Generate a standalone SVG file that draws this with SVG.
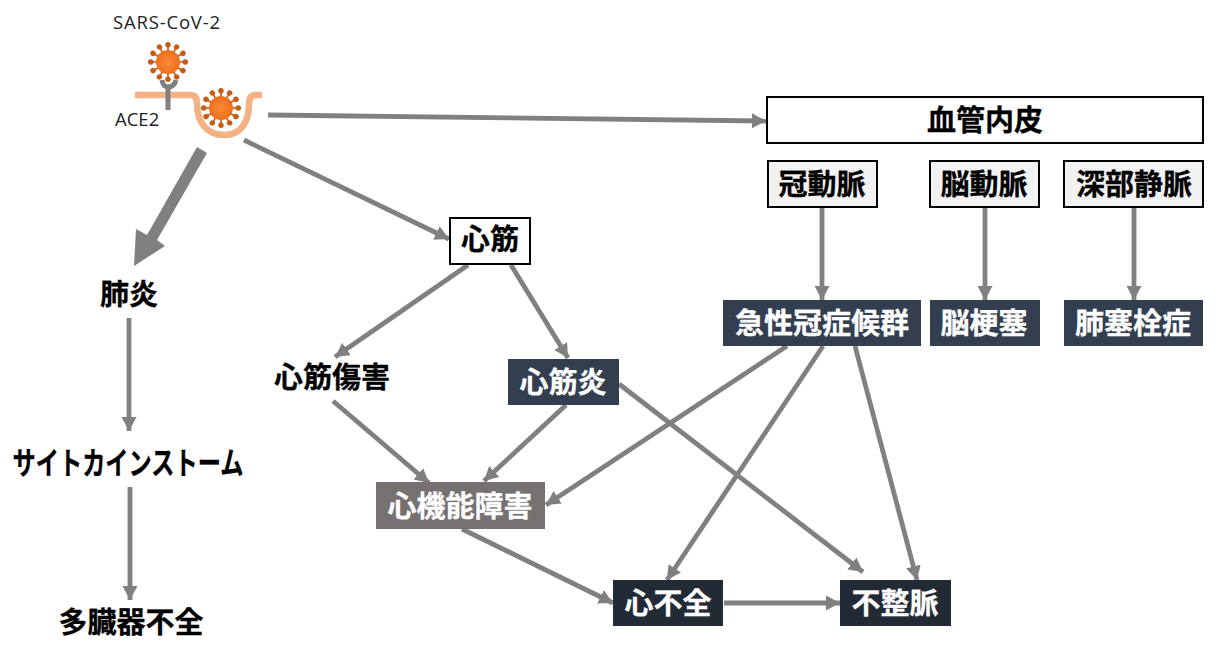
<svg xmlns="http://www.w3.org/2000/svg" width="1223" height="650" viewBox="0 0 1223 650">
<style>
.t{font-family:"Noto Sans CJK JP","Noto Sans CJK SC",sans-serif;font-weight:700;font-size:29px;text-anchor:middle;fill:#000;stroke:#000;stroke-width:.3}
.w{fill:#fff;stroke:#fff}
.s{font-family:"Open Sans","Liberation Sans",sans-serif;font-size:18.5px;fill:#222}
.c{fill:none;stroke:#808080;stroke-width:4.8;marker-end:url(#a)}
.box{fill:#fff;stroke:#000;stroke-width:2}
.lt{fill:#f2f2f2;stroke:#000;stroke-width:2}
.nv{fill:#333f50}
.dk{fill:#222a35}
.gr{fill:#767171}
</style>
<defs>
<marker id="a" markerUnits="userSpaceOnUse" markerWidth="16" markerHeight="16" refX="14" refY="7.5" orient="auto"><path d="M0 0L14 7.5L0 15Z" fill="#808080"/></marker>
<radialGradient id="v"><stop offset="0" stop-color="#f98a36"/><stop offset="1" stop-color="#ee6f1c"/></radialGradient>
<g id="spike"><path d="M0 -11V-16" stroke="#c55a11" stroke-width="1.6"/><circle cy="-17.3" r="2.7" fill="#c55a11"/></g>
<g id="virus">
<use href="#spike"/><use href="#spike" transform="rotate(30)"/><use href="#spike" transform="rotate(60)"/><use href="#spike" transform="rotate(90)"/><use href="#spike" transform="rotate(120)"/><use href="#spike" transform="rotate(150)"/><use href="#spike" transform="rotate(180)"/><use href="#spike" transform="rotate(210)"/><use href="#spike" transform="rotate(240)"/><use href="#spike" transform="rotate(270)"/><use href="#spike" transform="rotate(300)"/><use href="#spike" transform="rotate(330)"/>
<circle r="12" fill="url(#v)"/>
</g>
</defs>
<rect width="1223" height="650" fill="#fff"/>
<g id="cell">
<path d="M135 95H190Q197 95 197 103C197 124 208 135 224 135C241 135 249 122 249 104Q249 95 256 95H262" fill="none" stroke="#f4b183" stroke-width="6.5"/>
<path d="M162 80Q163 87 168 87Q174 87 176 80" fill="none" stroke="#7f7f7f" stroke-width="5"/>
<path d="M168 86V110" stroke="#7f7f7f" stroke-width="5"/>
<use href="#virus" x="168" y="62"/>
<use href="#virus" x="221" y="108"/>
<text class="s" x="113" y="29" textLength="107" lengthAdjust="spacing">SARS-CoV-2</text>
<text class="s" x="115" y="126">ACE2</text>
</g>
<g id="connectors">
<path class="c" d="M268 115L766 121"/>
<path d="M197 147L207 153L157 240L165 246L134 266L136 229L147 235Z" fill="#808080"/>
<path class="c" d="M244 140L449 239"/>
<path class="c" d="M468 265L335 357"/>
<path class="c" d="M511 265L568 358"/>
<path class="c" d="M129 318V431"/>
<path class="c" d="M130 487V600"/>
<path class="c" d="M333 401L429 483"/>
<path class="c" d="M566 405L484 481"/>
<path class="c" d="M619 384L863 572"/>
<path class="c" d="M787 346L546 505"/>
<path class="c" d="M823 346L667 580"/>
<path class="c" d="M855 346L917 580"/>
<path class="c" d="M462 529L613 603"/>
<path class="c" d="M724 603H840"/>
<path class="c" d="M822 208V300"/>
<path class="c" d="M985 208V300"/>
<path class="c" d="M1134 208V300"/>
</g>
<g id="n-endothelium"><rect class="box" x="767" y="97" width="436" height="46"/><text class="t" x="985" y="131">血管内皮</text></g>
<g id="n-coronary"><rect class="lt" x="768" y="161" width="109" height="46"/><text class="t" x="822" y="195">冠動脈</text></g>
<g id="n-cerebral"><rect class="lt" x="930" y="161" width="109" height="46"/><text class="t" x="984" y="195">脳動脈</text></g>
<g id="n-dvt"><rect class="lt" x="1064" y="161" width="139" height="46"/><text class="t" x="1134" y="195">深部静脈</text></g>
<g id="n-myocardium"><rect class="box" x="450" y="218" width="80" height="46"/><text class="t" x="490" y="250">心筋</text></g>
<g id="n-acs"><rect class="nv" x="723" y="300" width="198" height="46"/><text class="t w" x="822" y="334">急性冠症候群</text></g>
<g id="n-stroke"><rect class="nv" x="930" y="300" width="110" height="46"/><text class="t w" x="984" y="334">脳梗塞</text></g>
<g id="n-pe"><rect class="nv" x="1064" y="300" width="139" height="46"/><text class="t w" x="1133" y="334">肺塞栓症</text></g>
<g id="n-pneumonia"><text class="t" x="129" y="305">肺炎</text></g>
<g id="n-injury"><text class="t" x="332" y="388">心筋傷害</text></g>
<g id="n-myocarditis"><rect class="nv" x="508" y="359" width="111" height="46"/><text class="t w" x="563" y="393">心筋炎</text></g>
<g id="n-storm"><text class="t" x="128" y="474" style="font-size:31px" textLength="231" lengthAdjust="spacingAndGlyphs">サイトカインストーム</text></g>
<g id="n-dysfunction"><rect class="gr" x="376" y="482" width="169" height="47"/><text class="t w" x="460" y="517">心機能障害</text></g>
<g id="n-hf"><rect class="dk" x="613" y="580" width="110" height="46"/><text class="t w" x="668" y="614">心不全</text></g>
<g id="n-arrhythmia"><rect class="dk" x="840" y="580" width="111" height="46"/><text class="t w" x="895" y="614">不整脈</text></g>
<g id="n-mof"><text class="t" x="131" y="633">多臓器不全</text></g>
</svg>
